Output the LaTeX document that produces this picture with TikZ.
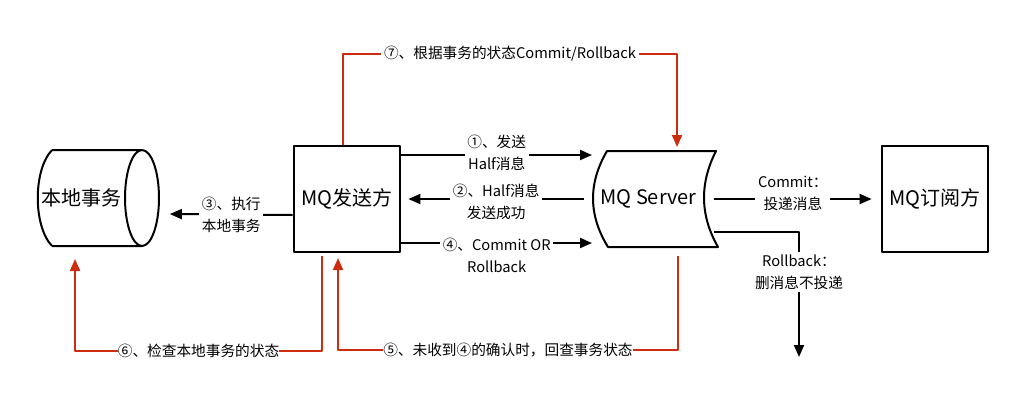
\documentclass[tikz,border=0pt]{standalone}
\usepackage{fontspec}
\setmainfont{Noto Sans CJK SC}
\usetikzlibrary{arrows.meta,positioning}
\definecolor{chkred}{RGB}{206,44,16}
\begin{document}
\begin{tikzpicture}[x=0.75pt, y=-0.75pt, line width=1.5pt, line join=round,
  font=\fontsize{11}{16.5}\selectfont,
  big/.style={font=\fontsize{15}{18}\selectfont},
  box/.style={big, draw, minimum width=80pt, minimum height=79.5pt},
  lbl/.style={fill=white, align=center, inner sep=2pt},
  arr/.style={-{Triangle[length=9pt, width=7.5pt]}},
  back/.style={arr, chkred}]
\useasboundingbox (0,0) rectangle (1031,401);
\node[big, minimum height=72pt, text width=86pt, inner xsep=3pt, align=left] (local) at (98.5,198) {本地事务};
\draw (52,150) -- (142,150) (52,246) -- (142,246) (142,198) ellipse [x radius=17, y radius=48]
  (52,150) .. controls (33,170) and (33,226) .. (52,246);
\node[box] (sender) at (347,199) {MQ发送方};
\node[big, minimum width=83.25pt, minimum height=72pt] (server) at (648.5,199) {MQ Server};
\draw (607,151) -- (716,151) .. controls (699.7,183) and (699.7,215) .. (718,247)
  -- (608,247) .. controls (588.2,215) and (588.2,183) .. (607,151) -- cycle;
\node[box] (sub) at (935,199) {MQ订阅方};
\coordinate (drop) at (799,357);
% sender <-> server
\draw[arr] ([yshift=33pt]sender.east) -- node[lbl, yshift=1.5pt]{①、发送\\Half消息} ([yshift=33pt]server.west);
\draw[arr] ([xshift=-6pt]server.west) -- node[lbl, yshift=-2pt]{②、Half消息\\发送成功} ([xshift=5.25pt]sender.east);
\draw[arr] ([yshift=-33pt]sender.east) -- node[lbl, yshift=-9pt]{④、Commit OR\\Rollback} ([yshift=-33pt]server.west);
\draw[arr] ([yshift=-12pt]sender.west) -- node[lbl]{③、执行\\本地事务} ([xshift=6.75pt, yshift=-12pt]local.east);
% server -> sub
\draw[arr] ([xshift=6.75pt]server.east) -- node[lbl, yshift=4pt]{Commit：\\投递消息} ([xshift=-6.75pt]sub.west);
\draw[arr] ([xshift=6.75pt, yshift=-24.75pt]server.east) -| node[lbl, pos=.66]{Rollback：\\删消息不投递} (drop);
% check back (red)
\draw[back] ([xshift=-3pt]sender.north) -- ++(0,-91) -| node[lbl, pos=.25, text=black]{⑦、根据事务的状态Commit/Rollback} ([xshift=21.4pt, yshift=2.25pt]server.north);
\draw[back] ([xshift=-18.75pt, yshift=-2.25pt]sender.south) -- ++(0,95) -| node[lbl, pos=.25, text=black, inner xsep=0pt]{⑥、检查本地事务的状态} ([xshift=-17.6pt, yshift=-9pt]local.south);
\draw[back] ([xshift=22.1pt, yshift=-6pt]server.south) -- ++(0,94) -| node[lbl, pos=.25, text=black, inner xsep=0pt]{⑤、未收到④的确认时，回查事务状态} ([xshift=-6.75pt, yshift=-3.75pt]sender.south);
\end{tikzpicture}
\end{document}
